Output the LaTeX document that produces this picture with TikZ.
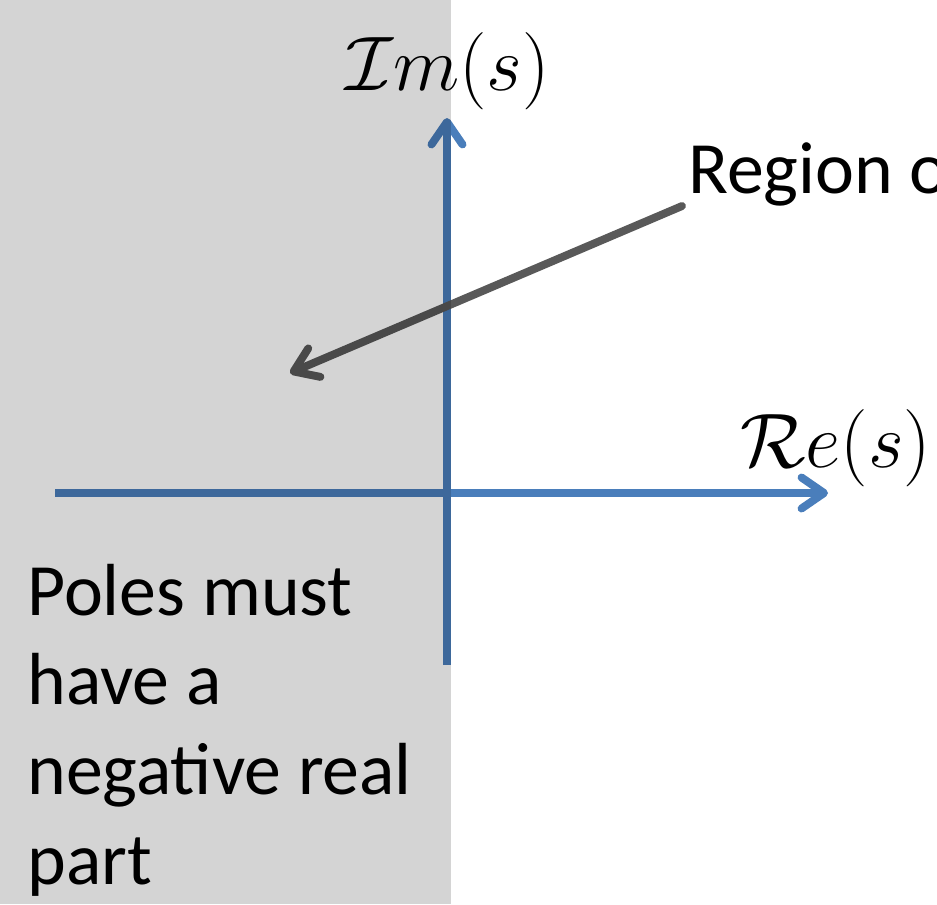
\RequirePackage{fix-cm}
\documentclass[tikz,border=0pt]{standalone}
\usepackage{fontspec}
\setmainfont{Carlito}
\usepackage{tikz}
\usetikzlibrary{arrows.meta,positioning}
\definecolor{axis_blue}{HTML}{4A7EBB}
\definecolor{arrow_gray}{HTML}{595959}
\tikzset{
axis_line/.style={draw=axis_blue, line width=4.5pt, -{Straight Barb[length=0.45cm, width=0.62cm, round]}},
pointer/.style={draw=arrow_gray, line width=4.5pt, line cap=round, -{Straight Barb[length=0.45cm, width=0.62cm, round]}},
body_text/.style={font=\fontsize{42}{51}\selectfont, inner sep=0, text=black},
axis_label/.style={font=\fontsize{44}{50}\selectfont, inner sep=0, text=black},
shade/.style={fill=black, fill opacity=0.17}
}

\begin{document}
\begin{tikzpicture}[x=0.02cm, y=-0.02cm]
    \clip (0,0) rectangle (937,904);
    \coordinate (re_start) at (55,493);
    \coordinate (re_end) at (828,493);
    \coordinate (im_start) at (447,665);
    \coordinate (im_end) at (447,118);
    \coordinate (lhp) at (290,373);
    \node[axis_label, anchor=base west] (im_label) at (345,90) {$\mathcal{I}m(s)$};
    \node[axis_label, anchor=base west] (re_label) at (740,467) {$\mathcal{R}e(s)$};
    \node[body_text, anchor=base west] (region) at (688,193) {Region of};
    \node[body_text, anchor=base west, align=left] (poles) at (27,884) {Poles must\\have a\\negative real\\part};
    \draw[axis_line] (re_start) -- (re_end);
    \draw[axis_line] (im_start) -- (im_end);
    \draw[pointer] ([xshift=-0.12cm]region.south west) -- (lhp);
    % left half plane
    \fill[shade] (0,0) rectangle (451,904);
\end{tikzpicture}
\end{document}
